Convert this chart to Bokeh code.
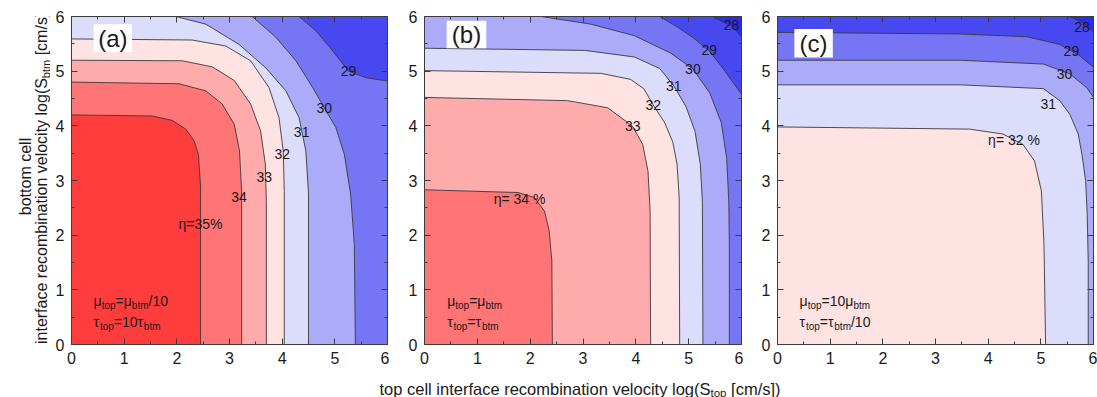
from bokeh.plotting import figure
from bokeh.models import Label, LinearAxis, SingleIntervalTicker, Range1d, BoxAnnotation
from bokeh.layouts import row, column
from bokeh.embed import file_html
from bokeh.resources import INLINE
import math

FONT = "Liberation Sans"
INK = "#1a1a1a"
AXC = "#3c3c3c"
XMIN, XMAX, YMIN, YMAX = 0.0, 6.0, 0.0, 6.0

# ---------------- data ----------------
BAND_LOWER = [27, 28, 29, 30, 31, 32, 33, 34, 35]
BAND_COLORS = ["#2B2BEC", "#4848F1", "#7676F5", "#ABABF9", "#DCDCFB",
               "#FFE2E2", "#FFABAB", "#FF7474", "#FF3D3D"]

# panel (a): mu_top = mu_btm/10
A_LEVELS = [29, 30, 31, 32, 33, 34, 35]
A_X = [
    [4.32, 4.64, 4.96, 5.26, 5.59, 6.0],
    [3.43, 3.88, 4.26, 4.58, 4.80, 5.02, 5.18, 5.30, 5.37, 5.39],
    [1.98, 2.55, 3.18, 3.69, 4.07, 4.32, 4.45, 4.50, 4.50],
    [0.0, 2.29, 2.93, 3.40, 3.75, 3.94, 4.02, 4.04, 4.04],
    [0.0, 2.10, 2.67, 3.09, 3.40, 3.59, 3.68, 3.70, 3.70],
    [0.0, 2.04, 2.55, 2.86, 3.09, 3.19, 3.23, 3.23],
    [0.0, 1.53, 1.91, 2.17, 2.33, 2.41, 2.45, 2.45],
]
A_Y = [
    [6.0, 5.74, 5.37, 5.00, 4.88, 4.82],
    [6.0, 5.62, 5.19, 4.70, 4.33, 3.97, 3.48, 2.75, 1.83, 0.0],
    [6.0, 5.86, 5.49, 5.06, 4.64, 4.15, 3.54, 2.75, 0.0],
    [5.59, 5.57, 5.46, 5.19, 4.70, 4.15, 3.54, 2.80, 0.0],
    [5.20, 5.19, 5.08, 4.83, 4.40, 3.91, 3.30, 2.60, 0.0],
    [4.80, 4.77, 4.64, 4.40, 4.03, 3.54, 2.80, 0.0],
    [4.20, 4.18, 4.10, 3.94, 3.72, 3.48, 2.90, 0.0],
]
A_LABELS = ["29", "30", "31", "32", "33", "34", "η=35%"]
A_LABEL_X = [5.26, 4.80, 4.37, 4.00, 3.66, 3.18, 2.45]
A_LABEL_Y = [5.00, 4.33, 3.88, 3.49, 3.07, 2.70, 2.20]

# panel (b): mu_top = mu_btm
B_LEVELS = [28, 29, 30, 31, 32, 33, 34]
B_X = [
    [5.45, 5.65, 5.80, 5.92, 6.0],
    [4.45, 4.80, 5.10, 5.39, 5.65, 5.85, 6.0],
    [2.21, 3.15, 3.97, 4.66, 5.08, 5.40, 5.62, 5.72, 5.76, 5.77, 5.77],
    [0.0, 3.03, 3.97, 4.45, 4.72, 4.95, 5.12, 5.22, 5.26, 5.27],
    [0.0, 3.34, 3.90, 4.15, 4.33, 4.55, 4.70, 4.78, 4.82, 4.83],
    [0.0, 2.71, 3.47, 3.94, 4.13, 4.23, 4.27, 4.28],
    [0.0, 1.77, 2.08, 2.27, 2.36, 2.41, 2.42],
]
B_Y = [
    [6.0, 5.90, 5.83, 5.72, 5.62],
    [6.0, 5.80, 5.60, 5.37, 5.05, 4.78, 4.58],
    [6.0, 5.86, 5.65, 5.33, 5.04, 4.60, 4.05, 3.40, 2.60, 1.80, 0.0],
    [5.42, 5.38, 5.26, 5.05, 4.73, 4.35, 3.90, 3.30, 2.60, 0.0],
    [5.01, 4.96, 4.85, 4.68, 4.38, 4.05, 3.70, 3.30, 2.70, 0.0],
    [4.52, 4.46, 4.33, 3.99, 3.66, 3.17, 2.44, 0.0],
    [2.83, 2.78, 2.69, 2.44, 2.08, 1.53, 0.0],
]
B_LABELS = ["28", "29", "30", "31", "32", "33", "η= 34 %"]
B_LABEL_X = [5.81, 5.39, 5.08, 4.72, 4.33, 3.94, 1.80]
B_LABEL_Y = [5.85, 5.38, 5.04, 4.73, 4.38, 3.99, 2.66]

# panel (c): mu_top = 10 mu_btm
C_LEVELS = [28, 29, 30, 31, 32]
C_X = [
    [5.55, 5.80, 6.0],
    [0.0, 3.47, 4.73, 5.36, 5.74, 6.0],
    [0.0, 3.47, 5.05, 5.55, 5.87, 6.0],
    [0.0, 3.47, 5.05, 5.36, 5.55, 5.71, 5.78, 5.85, 5.88, 5.90, 5.90],
    [0.0, 3.65, 4.28, 4.66, 4.88, 5.01, 5.06, 5.09],
]
C_Y = [
    [6.0, 5.88, 5.72],
    [5.71, 5.68, 5.63, 5.49, 5.28, 5.07],
    [5.20, 5.20, 5.13, 4.95, 4.70, 4.52],
    [4.75, 4.75, 4.68, 4.46, 4.21, 3.85, 3.48, 3.00, 2.40, 1.50, 0.0],
    [3.98, 3.94, 3.85, 3.66, 3.36, 2.81, 1.83, 0.0],
]
C_LABELS = ["28", "29", "30", "31", "η= 32 %"]
C_LABEL_X = [5.78, 5.58, 5.45, 5.14, 4.49]
C_LABEL_Y = [5.80, 5.37, 4.94, 4.40, 3.75]

PANEL_LETTERS = ["(a)", "(b)", "(c)"]
LETTER_BOX = [  # left, right, bottom, top in data units
    (0.42, 1.15, 5.35, 5.86),
    (0.42, 1.17, 5.42, 5.92),
    (0.32, 1.05, 5.25, 5.77),
]
NOTES = [
    [[("μ", 0), ("top", 1), ("=μ", 0), ("btm", 1), ("/10", 0)],
     [("τ", 0), ("top", 1), ("=10τ", 0), ("btm", 1)]],
    [[("μ", 0), ("top", 1), ("=μ", 0), ("btm", 1)],
     [("τ", 0), ("top", 1), ("=τ", 0), ("btm", 1)]],
    [[("μ", 0), ("top", 1), ("=10μ", 0), ("btm", 1)],
     [("τ", 0), ("top", 1), ("=τ", 0), ("btm", 1), ("/10", 0)]],
]
NOTE_X = [0.42, 0.43, 0.42]
NOTE_Y = [0.79, 0.41]

TICKS_MAJOR = 1
XLABEL_PARTS = [("top cell interface recombination velocity log(S", 0), ("top", 1), (" [cm/s])", 0)]
YLABEL1 = "bottom cell"
YLABEL2_PARTS = [("interface recombination velocity log(S", 0), ("btm", 1), (" [cm/s])", 0)]

# ---------------- helpers ----------------
ADV = {' ': 278, '(': 333, ')': 333, '[': 278, ']': 278, '/': 278, '%': 889, '=': 584,
       'a': 556, 'b': 556, 'c': 500, 'd': 556, 'e': 556, 'f': 278, 'g': 556, 'i': 222,
       'l': 222, 'm': 833, 'n': 556, 'o': 556, 'p': 556, 'r': 333, 's': 500, 't': 278,
       'v': 500, 'y': 500, 'S': 667, 'μ': 576, 'τ': 450, 'η': 556}


def tw(s, size):
    return sum(ADV.get(ch, 556) for ch in s) * size / 1000.0


def color_for(level):
    return BAND_COLORS[BAND_LOWER.index(level)]


def close_region(xs, ys):
    px, py = list(xs), list(ys)
    if px[-1] >= XMAX:
        px.append(XMAX); py.append(YMIN)
    px.append(XMIN); py.append(YMIN)
    if py[0] >= YMAX and px[0] > XMIN:
        px.append(XMIN); py.append(YMAX)
    return px, py


PH = 372
BT = 16
BB = 28
MAIN = 14
SUB = 10


def make_panel(width, bl, br, levels, xs, ys, labels, lx, ly, idx):
    p = figure(width=width, height=PH, x_range=Range1d(XMIN, XMAX), y_range=Range1d(YMIN, YMAX),
               output_backend="svg", toolbar_location=None,
               min_border_left=bl, min_border_right=br, min_border_top=BT, min_border_bottom=BB)
    p.grid.visible = False
    p.outline_line_color = None
    p.background_fill_color = color_for(levels[0] - 1)
    p.border_fill_color = "white"
    for lev, x, y in zip(levels, xs, ys):
        px, py = close_region(x, y)
        p.patch(px, py, fill_color=color_for(lev), line_color=None)
    for x, y in zip(xs, ys):
        p.line(x, y, line_color="#3a3a3a", line_width=0.9)

    p.add_layout(LinearAxis(), "above")
    p.add_layout(LinearAxis(), "right")
    for ax in p.axis:
        ax.ticker = SingleIntervalTicker(interval=TICKS_MAJOR, num_minor_ticks=2)
        ax.axis_line_color = AXC
        ax.axis_line_width = 1
        ax.major_tick_line_color = AXC
        ax.minor_tick_line_color = AXC
        ax.major_tick_in = 6
        ax.major_tick_out = 0
        ax.minor_tick_in = 3
        ax.minor_tick_out = 0
        ax.major_label_text_font = FONT
        ax.major_label_text_font_size = "16px"
        ax.major_label_text_color = INK
        ax.major_label_standoff = 7
    for ax in p.above + p.right:
        ax.major_label_text_font_size = "0px"
        ax.major_label_text_color = None
        ax.major_label_standoff = 0

    for t, x, y in zip(labels, lx, ly):
        p.add_layout(Label(x=x, y=y, text=t, text_align="center", text_baseline="middle",
                           text_font=FONT, text_font_size="14px", text_color=INK))

    l, r, b, t = LETTER_BOX[idx]
    p.add_layout(BoxAnnotation(left=l, right=r, bottom=b, top=t, fill_color="white",
                               fill_alpha=1.0, line_color=None))
    p.add_layout(Label(x=(l + r) / 2, y=(b + t) / 2, text=PANEL_LETTERS[idx], text_align="center",
                       text_baseline="middle", text_font=FONT, text_font_size="24px", text_color=INK))

    for line_parts, yy in zip(NOTES[idx], NOTE_Y):
        off = 0.0
        for txt, sub in line_parts:
            fs = SUB if sub else MAIN
            p.add_layout(Label(x=NOTE_X[idx], y=yy, x_offset=off, y_offset=-4 if sub else 0,
                               text=txt, text_font=FONT, text_font_size=f"{fs}px", text_color=INK,
                               text_align="left", text_baseline="alphabetic"))
            off += tw(txt, fs)
    return p


YW = 50
pa = make_panel(339, 21, 2, A_LEVELS, A_X, A_Y, A_LABELS, A_LABEL_X, A_LABEL_Y, 0)
pb = make_panel(354, 35, 2, B_LEVELS, B_X, B_Y, B_LABELS, B_LABEL_X, B_LABEL_Y, 1)
pc = make_panel(354, 34, 4, C_LEVELS, C_X, C_Y, C_LABELS, C_LABEL_X, C_LABEL_Y, 2)

TITLE = 16.5
TSUB = 11.5
YTITLE = 16
YTSUB = 11


def blank(width, height):
    f = figure(width=width, height=height, x_range=Range1d(0, 1), y_range=Range1d(0, 1),
               output_backend="svg", toolbar_location=None, x_axis_location=None,
               y_axis_location=None, min_border=0)
    f.grid.visible = False
    f.outline_line_color = None
    return f


def split_lead(txt):
    stripped = txt.lstrip()
    return txt[:len(txt) - len(stripped)], stripped


# y axis title strip: inside the row its frame runs from the top down to the panels' frame bottom
FB = PH - BB
yl = blank(YW, PH)
yl.add_layout(Label(x=25, y=FB - 176, x_units="screen", y_units="screen", text=YLABEL1,
                    angle=math.pi / 2, text_align="center", text_baseline="alphabetic",
                    text_font=FONT, text_font_size=f"{YTITLE}px", text_color=INK))
total = sum(tw(t, YTSUB if s else YTITLE) for t, s in YLABEL2_PARTS)
pos = max(0.5, (FB - 176) - total / 2)
for txt, sub in YLABEL2_PARTS:
    fs = YTSUB if sub else YTITLE
    lead, body = split_lead(txt)
    pos += tw(lead, fs)
    yl.add_layout(Label(x=41 + (4 if sub else 0), y=pos, x_units="screen", y_units="screen", text=body,
                        angle=math.pi / 2, text_align="left", text_baseline="alphabetic",
                        text_font=FONT, text_font_size=f"{fs}px", text_color=INK))
    pos += tw(body, fs)

# x axis title strip
xl = blank(1097, 397 - PH)
total = sum(tw(t, TSUB if s else TITLE) for t, s in XLABEL_PARTS)
pos = 579.5 - total / 2
for txt, sub in XLABEL_PARTS:
    fs = TSUB if sub else TITLE
    lead, body = split_lead(txt)
    pos += tw(lead, fs)
    xl.add_layout(Label(x=pos, y=9 - (4 if sub else 0), x_units="screen", y_units="screen", text=body,
                        text_align="left", text_baseline="alphabetic",
                        text_font=FONT, text_font_size=f"{fs}px", text_color=INK))
    pos += tw(body, fs)

layout = column(row(yl, pa, pb, pc, spacing=0), xl, spacing=0)
open("out.html", "w").write(file_html(layout, INLINE))
